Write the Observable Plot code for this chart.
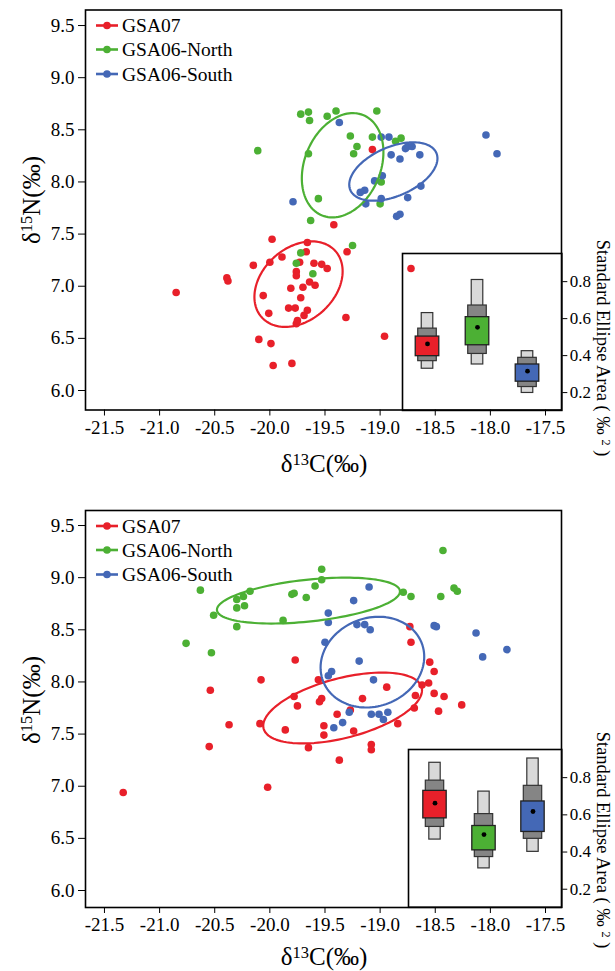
<!DOCTYPE html>
<html><head><meta charset="utf-8">
<script src="https://cdn.jsdelivr.net/npm/d3@7"></script>
<script src="https://cdn.jsdelivr.net/npm/@observablehq/plot@0.6"></script>
<style>
body{margin:0;background:#fff;font-family:"Liberation Serif","DejaVu Serif",serif;}
#wrap{position:relative;width:615px;height:971px;overflow:hidden;}
.layer{position:absolute;}
svg{overflow:visible !important;}
svg text{font-family:"Liberation Serif","DejaVu Serif",serif !important;}
</style></head><body><div id="wrap"></div>
<script>
// ---------- data ----------
const groups = ["GSA07", "GSA06-North", "GSA06-South"];
const colors = ["#e8202a", "#4cb034", "#4468b6"];
const xTicks = [-21.5, -21.0, -20.5, -20.0, -19.5, -19.0, -18.5, -18.0, -17.5];
const yTicks = [6.0, 6.5, 7.0, 7.5, 8.0, 8.5, 9.0, 9.5];
const seaTicks = [0.2, 0.4, 0.6, 0.8];

// Panel 1 (top) isotope values [d13C, d15N]
const p1GSA07 = [[-19.07,8.31],[-19.42,7.59],[-19.98,7.45],[-19.66,7.42],[-19.30,7.33],[-19.89,7.28],[-19.67,7.33],[-20.15,7.20],[-20.00,7.23],[-19.73,7.23],[-19.60,7.22],[-19.53,7.21],[-19.48,7.17],[-19.76,7.14],[-19.76,7.10],[-20.39,7.08],[-20.38,7.05],[-20.85,6.94],[-19.81,6.98],[-19.70,6.99],[-19.64,7.04],[-19.59,7.01],[-20.06,6.91],[-19.72,6.89],[-19.83,6.79],[-19.77,6.79],[-19.66,6.77],[-20.01,6.74],[-19.69,6.72],[-19.75,6.67],[-19.76,6.64],[-19.31,6.70],[-18.72,7.17],[-18.96,6.52],[-20.10,6.49],[-19.99,6.45],[-19.97,6.24],[-19.80,6.26]];
const p1North = [[-20.11,8.30],[-19.72,8.65],[-19.65,8.67],[-19.64,8.59],[-19.48,8.63],[-19.40,8.68],[-19.03,8.68],[-19.27,8.44],[-19.07,8.43],[-19.21,8.34],[-19.24,8.27],[-19.65,8.27],[-18.81,8.42],[-18.86,8.39],[-18.99,8.00],[-19.00,7.79],[-19.56,7.84],[-19.63,7.63],[-19.25,7.39],[-19.72,7.32],[-19.76,7.22],[-19.61,7.12]];
const p1South = [[-19.37,8.57],[-18.99,8.43],[-18.92,8.43],[-18.77,8.32],[-18.75,8.34],[-18.71,8.34],[-18.90,8.26],[-18.82,8.22],[-18.64,8.26],[-18.98,8.06],[-19.05,8.01],[-19.14,7.92],[-19.18,7.90],[-19.13,7.79],[-18.99,7.84],[-18.75,7.85],[-18.63,7.96],[-18.85,7.67],[-18.82,7.69],[-19.79,7.81],[-18.04,8.45],[-17.94,8.27]];
// standard ellipses [cx, cy, half-width, half-height, correlation]
const p1Ellipses = [[-19.74,7.02,0.40,0.41,0.30],[-19.34,8.16,0.37,0.50,0.25],[-18.88,8.10,0.40,0.28,0.45]];
// SEA credible intervals (95, 75, 50 %) and mode, per group
const p1Sea95 = [[0.329,0.630],[0.352,0.809],[0.198,0.424]];
const p1Sea75 = [[0.370,0.546],[0.409,0.671],[0.230,0.388]];
const p1Sea50 = [[0.397,0.503],[0.456,0.608],[0.259,0.352]];
const p1SeaMode = [0.463,0.553,0.316];

// Panel 2 (bottom)
const p2GSA07 = [[-18.73,8.53],[-18.72,8.38],[-19.77,8.21],[-18.55,8.19],[-18.51,8.10],[-20.08,8.02],[-20.54,7.92],[-19.56,8.02],[-18.94,7.95],[-18.62,7.97],[-18.56,7.99],[-18.51,7.89],[-18.42,7.86],[-18.68,7.87],[-18.69,7.75],[-19.78,7.86],[-19.75,7.77],[-19.55,7.81],[-19.53,7.84],[-19.16,7.84],[-19.39,7.69],[-19.27,7.73],[-18.47,7.72],[-18.26,7.78],[-20.37,7.59],[-20.09,7.60],[-19.86,7.54],[-19.51,7.58],[-19.51,7.49],[-19.24,7.53],[-18.84,7.60],[-20.55,7.38],[-21.33,6.94],[-20.02,6.99],[-19.65,7.37],[-19.37,7.25],[-19.08,7.40],[-19.08,7.35]];
const p2North = [[-18.43,9.26],[-19.53,9.08],[-19.53,8.98],[-19.59,8.92],[-19.80,8.84],[-19.78,8.85],[-19.67,8.81],[-18.79,8.86],[-18.72,8.82],[-18.45,8.82],[-18.33,8.90],[-18.30,8.87],[-20.63,8.88],[-20.51,8.64],[-20.30,8.79],[-20.30,8.71],[-20.24,8.82],[-20.23,8.73],[-20.18,8.87],[-19.88,8.59],[-20.30,8.53],[-20.76,8.37],[-20.53,8.28]];
const p2South = [[-19.10,8.91],[-19.24,8.78],[-19.47,8.66],[-19.47,8.57],[-19.21,8.55],[-19.14,8.55],[-19.09,8.50],[-19.50,8.38],[-19.19,8.20],[-19.44,8.10],[-19.47,8.06],[-19.06,8.02],[-18.51,8.54],[-18.49,8.53],[-18.13,8.47],[-18.07,8.24],[-17.85,8.31],[-19.42,7.56],[-19.34,7.61],[-19.28,7.71],[-19.08,7.69],[-19.01,7.69],[-18.97,7.64],[-18.93,7.71]];
const p2Ellipses = [[-19.34,7.75,0.72,0.34,0.50],[-19.65,8.78,0.83,0.22,0.40],[-19.07,8.19,0.47,0.435,0.12]];
const p2Sea95 = [[0.467,0.880],[0.312,0.725],[0.401,0.903]];
const p2Sea75 = [[0.535,0.784],[0.373,0.604],[0.471,0.756]];
const p2Sea50 = [[0.581,0.729],[0.409,0.540],[0.508,0.672]];
const p2SeaMode = [0.663,0.494,0.618];

// ---------- layout ----------
const FONT = '"Liberation Serif","DejaVu Serif",serif';
const panels = [
  {top:0, height:500, mt:9.5, mb:90.5, yDomain:[5.813,9.649],
   series:[p1GSA07,p1North,p1South], ellipses:p1Ellipses,
   sea95:p1Sea95, sea75:p1Sea75, sea50:p1Sea50, seaMode:p1SeaMode,
   insetLeft:-18.80, insetTop:7.318, seaRef:[5.984,7.048], boxX:[-18.573,-18.11,-17.658],
   xTitleY:472, yTitleY:200, rTitleY:348},
  {top:500, height:471, mt:10, mb:64, yDomain:[5.837,9.644],
   series:[p2GSA07,p2North,p2South], ellipses:p2Ellipses,
   sea95:p2Sea95, sea75:p2Sea75, sea50:p2Sea50, seaMode:p2SeaMode,
   insetLeft:-18.745, insetTop:7.35, seaRef:[6.01,7.08], boxX:[-18.51,-18.07,-17.61],
   xTitleY:465, yTitleY:200, rTitleY:340}
];
const W = 615, ML = 85, MR = 54;
const wrap = document.getElementById("wrap");

function supText(sel, parts){
  parts.forEach(([t, sup], i) => {
    const prevSup = i > 0 && parts[i-1][1];
    const ts = sel.append("tspan").text(t);
    if (sup) ts.attr("font-size","0.66em").attr("dy","-0.45em");
    else if (prevSup) ts.attr("dy","0.3em");
  });
}

panels.forEach(p => {
  const pts = [];
  p.series.forEach((arr,i) => arr.forEach(([x,y]) => pts.push({x, y, g:groups[i]})));
  const ell = [];
  p.ellipses.forEach(([cx,cy,rx,ry,rho],i) => {
    const n = 120;
    for (let k = 0; k <= n; k++) {
      const t = 2*Math.PI*k/n;
      ell.push({g:groups[i], x: cx + rx*Math.cos(t),
                y: cy + ry*(rho*Math.cos(t) + Math.sqrt(1-rho*rho)*Math.sin(t))});
    }
  });

  const main = Plot.plot({
    width: W, height: p.height,
    marginLeft: ML, marginRight: MR, marginTop: p.mt, marginBottom: p.mb,
    style: {fontFamily: FONT, fontSize: "19px", color: "#000", background: "transparent"},
    x: {domain: [-21.672, -17.355], ticks: xTicks, tickFormat: d => d.toFixed(1), label: null, tickSize: 6, tickPadding: 4},
    y: {domain: p.yDomain, ticks: yTicks, tickFormat: d => d.toFixed(1), label: null, tickSize: 7, tickPadding: 4},
    color: {domain: groups, range: colors},
    marks: [
      Plot.dot(pts, {x: "x", y: "y", fill: "g", r: 3.8}),
      Plot.line(ell, {x: "x", y: "y", z: "g", stroke: "g", strokeWidth: 2.2, curve: "linear-closed"}),
      Plot.frame({stroke: "#000", strokeWidth: 1.6})
    ]
  });
  const d1 = document.createElement("div");
  d1.className = "layer"; d1.style.left = "0px"; d1.style.top = p.top + "px";
  d1.appendChild(main);
  wrap.appendChild(d1);

  const svg = d3.select(main);
  // legend
  const lg = svg.append("g");
  const rows = [16, 40, 64.5];
  groups.forEach((name, i) => {
    const y = p.mt + rows[i];
    lg.append("line").attr("x1", 96).attr("x2", 118).attr("y1", y).attr("y2", y)
      .attr("stroke", colors[i]).attr("stroke-width", 2.6);
    lg.append("circle").attr("cx", 107).attr("cy", y).attr("r", 3.8).attr("fill", colors[i]);
    lg.append("text").attr("x", 122).attr("y", y).attr("dy", "0.35em")
      .attr("text-anchor", "start").style("text-anchor", "start")
      .attr("font-size", "19.5px").attr("fill", "#000").text(name);
  });
  // axis titles
  const xt = svg.append("text").attr("x", 324).attr("y", p.xTitleY).style("text-anchor", "middle")
    .attr("font-size", "25px").attr("fill", "#000");
  supText(xt, [["δ",false],["13",true],["C(‰)",false]]);
  const yt = svg.append("text").attr("transform", `translate(39.5,${p.yTitleY}) rotate(-90)`)
    .style("text-anchor", "middle").attr("font-size", "25px").attr("fill", "#000");
  supText(yt, [["δ",false],["15",true],["N(‰)",false]]);
  const rt = svg.append("text").attr("transform", `translate(597,${p.rTitleY}) rotate(90)`)
    .style("text-anchor", "middle").attr("font-size", "18.5px").attr("fill", "#000");
  supText(rt, [["Standard Ellipse Area ( ‰ ",false],["2",true],[" )",false]]);

  // inset
  const sx = main.scale("x"), sy = main.scale("y");
  const left = sx.apply(p.insetLeft);
  const topPx = sy.apply(p.insetTop);
  const bottomPx = p.height - p.mb;
  const iw = W - left, ih = bottomPx - topPx;
  const c = p.boxX.map(v => sx.apply(v) - left);
  const step = (c[2] - c[0]) / 2;
  const rowsSea = groups.map((g, i) => ({
    g, lo95: p.sea95[i][0], hi95: p.sea95[i][1], lo75: p.sea75[i][0], hi75: p.sea75[i][1],
    lo50: p.sea50[i][0], hi50: p.sea50[i][1], mode: p.seaMode[i]
  }));
  const yr0 = sy.apply(p.seaRef[0]) - topPx, yr1 = sy.apply(p.seaRef[1]) - topPx;
  const ins = (w) => (step - w) / 2;
  const inset = Plot.plot({
    width: iw, height: ih,
    marginLeft: 0, marginRight: MR, marginTop: 0, marginBottom: 0,
    style: {fontFamily: FONT, fontSize: "17px", color: "#000", background: "transparent"},
    x: {type: "band", domain: groups, range: [c[0] - step/2, c[2] + step/2], padding: 0, axis: null},
    y: {domain: [0.2, 0.8], range: [yr0, yr1], axis: "right", ticks: seaTicks, tickFormat: d => d.toFixed(1), label: null, tickSize: 5, tickPadding: 3},
    color: {domain: groups, range: colors},
    marks: [
      Plot.barY(rowsSea, {x: "g", y1: "lo95", y2: "hi95", fill: "#d9d9d9", stroke: "#333", strokeWidth: 1.2, insetLeft: ins(12), insetRight: ins(12)}),
      Plot.barY(rowsSea, {x: "g", y1: "lo75", y2: "hi75", fill: "#858585", stroke: "#333", strokeWidth: 1.2, insetLeft: ins(19), insetRight: ins(19)}),
      Plot.barY(rowsSea, {x: "g", y1: "lo50", y2: "hi50", fill: "g", stroke: "#222", strokeWidth: 1.3, insetLeft: ins(24), insetRight: ins(24)}),
      Plot.dot(rowsSea, {x: "g", y: "mode", fill: "#000", r: 2.4}),
      Plot.frame({stroke: "#000", strokeWidth: 1.6})
    ]
  });
  const d2 = document.createElement("div");
  d2.className = "layer"; d2.style.left = left + "px"; d2.style.top = (p.top + topPx) + "px";
  d2.appendChild(inset);
  wrap.appendChild(d2);
});
</script>
</body></html>
